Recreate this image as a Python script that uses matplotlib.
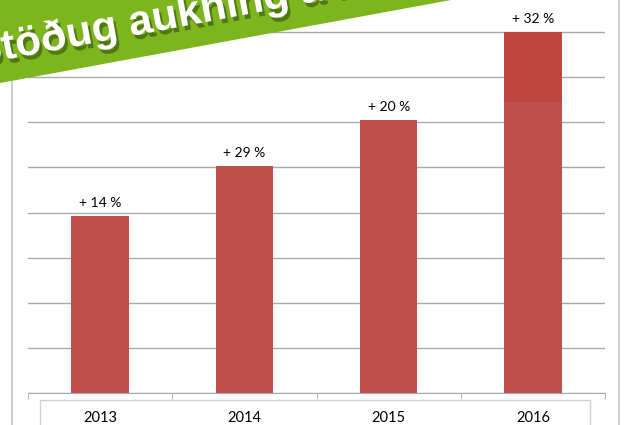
import matplotlib
matplotlib.use('Agg')
import matplotlib.pyplot as plt
import matplotlib.patheffects as pe
from matplotlib.patches import Polygon, Rectangle
from matplotlib.lines import Line2D

# Data (relative units, one gridline = 1)
years = ['2013', '2014', '2015', '2016']
values = [3.92, 5.04, 6.05, 8.0]
growth = ['+ 14 %', '+ 29 %', '+ 20 %', '+ 32 %']
# the 2016 bar is drawn in two shades, split at this height
split_2016 = 6.45
title = 'Stöðug aukning á milli ára'

W, H = 624, 425
fig = plt.figure(figsize=(W/100, H/100), dpi=100)

def fx(x):
    return x / W

def fy(y):
    return 1 - y / H

ax = fig.add_axes([fx(28), fy(393), fx(605) - fx(28), fy(18.5) - fy(393)])

x = range(len(years))
bar_col = '#C0504D'
ax.bar(x[:-1], values[:-1], width=0.4, color=bar_col, zorder=3)
ax.bar(x[-1], split_2016, width=0.4, color=bar_col, zorder=3)
ax.bar(x[-1], values[-1] - split_2016, bottom=split_2016, width=0.4,
       color='#C1453F', zorder=3)

for i, v in enumerate(values):
    ax.annotate(growth[i], (i, v), xytext=(0, 5), textcoords='offset points',
                ha='center', va='bottom', fontsize=10, family='Lato')

ax.set_xlim(-0.5, 3.5)
ax.set_ylim(0, 8.3)
ax.set_yticks(range(0, 9))
ax.yaxis.grid(True, color='#a9a9a9', linewidth=1)
ax.set_axisbelow(True)
ax.tick_params(axis='y', left=False, labelleft=False)

ax.set_xticks(list(x))
ax.set_xticklabels(years, fontsize=10.5, family='Lato')
ax.tick_params(axis='x', length=0, pad=13)
ax.set_xticks([i - 0.5 for i in range(len(years) + 1)], minor=True)
ax.tick_params(axis='x', which='minor', length=4, color='#a9a9a9', direction='out')

for s in ['top', 'left', 'right']:
    ax.spines[s].set_visible(False)
ax.spines['bottom'].set_color('#a9a9a9')

# outer frame lines and the box under the axis
for xx in [12, 619]:
    fig.add_artist(Line2D([fx(xx), fx(xx)], [0, 1], color='#c4c4c4',
                          linewidth=1.2, transform=fig.transFigure))
fig.add_artist(Rectangle((fx(40), fy(432)), fx(590) - fx(40), fy(400) - fy(432),
                         fill=False, edgecolor='#d0d0d0', linewidth=1,
                         transform=fig.transFigure))

# green banner across the top left corner
k = 0.184
pts = [(-60, 83 + 60*k), (520, 83 - 520*k), (520, -2 - 520*k), (-60, -2 + 60*k)]
fig.add_artist(Polygon([(fx(a), fy(b)) for a, b in pts], closed=True,
                       facecolor='#7DB51E', edgecolor='none',
                       transform=fig.transFigure, zorder=10))
t = fig.text(fx(-24), fy(65), title, rotation=10.6, rotation_mode='anchor',
             ha='left', va='baseline', fontsize=30.5, fontweight='bold',
             family='Liberation Sans', color='white', zorder=11)
t.set_path_effects([pe.withSimplePatchShadow(offset=(2, -3),
                                             shadow_rgbFace='#3E5E0C',
                                             alpha=0.7)])

fig.savefig('out.png', dpi=100)
